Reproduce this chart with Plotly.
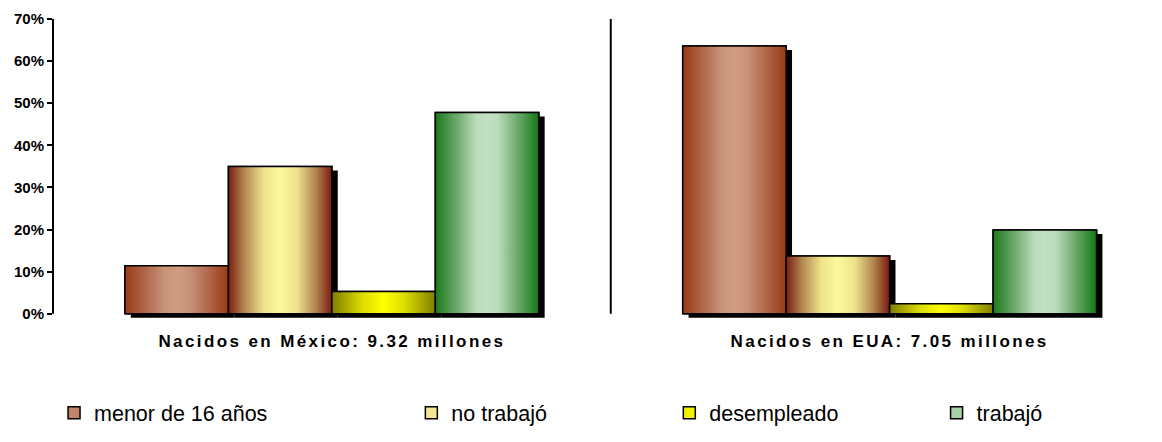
import plotly.graph_objects as go

# Categories and series (share of each group, %)
groups = ["Nacidos en México: 9.32 millones", "Nacidos en EUA: 7.05 millones"]
series = ["menor de 16 años", "no trabajó", "desempleado", "trabajó"]
menor_16 = [11.4, 63.6]
no_trabajo = [35.0, 13.7]
desempleado = [5.3, 2.4]
trabajo = [47.8, 19.9]
y_ticks = [0, 10, 20, 30, 40, 50, 60, 70]
y_tick_labels = ["0%", "10%", "20%", "30%", "40%", "50%", "60%", "70%"]

values = [menor_16, no_trabajo, desempleado, trabajo]

# Horizontal "cylinder" shading for each series, edge -> centre -> edge
gradients = [
    [[0, "#9a3a16"], [0.18, "#ae6446"], [0.38, "#c9937a"], [0.5, "#cf9c82"],
     [0.62, "#c9937a"], [0.82, "#ae6446"], [1, "#9a3a14"]],
    [[0, "#7c1e10"], [0.16, "#b48a52"], [0.34, "#eee38c"], [0.5, "#fcf99c"],
     [0.66, "#eee38c"], [0.84, "#b08850"], [1, "#7c1a10"]],
    [[0, "#7e7e00"], [0.3, "#dede00"], [0.5, "#ffff00"], [0.7, "#dede00"], [1, "#7e7e00"]],
    [[0, "#1a7a1a"], [0.2, "#6aa86a"], [0.4, "#bcdcbc"], [0.5, "#c2e0c2"],
     [0.6, "#bcdcbc"], [0.8, "#6aa86a"], [1, "#127812"]],
]
swatch = ["#c08468", "#f2e690", "#f0f000", "#a6d0a6"]

bar_w = 0.1855          # width of one bar in category units
shadow_dx = 0.0105      # drop shadow offset (x, category units)
shadow_dy = 0.95        # drop shadow offset (y, percent units)
xpos = list(range(len(groups)))

# legend anchors, in container (window) fractions
legend_x = [0.0465, 0.354, 0.576, 0.806]
legend_y = 0.066

fig = go.Figure()

# drop shadows
for k, vals in enumerate(values):
    off = (k - 2) * bar_w
    fig.add_trace(go.Bar(
        x=[p + shadow_dx for p in xpos], y=vals, base=-shadow_dy,
        width=bar_w, offset=off, marker=dict(color="black", line=dict(width=0)),
        showlegend=False, hoverinfo="skip"))

# main bars (solid fill, also provide legend entries)
for k, vals in enumerate(values):
    off = (k - 2) * bar_w
    fig.add_trace(go.Bar(
        x=xpos, y=vals, width=bar_w, offset=off, name=series[k],
        marker=dict(color=swatch[k], line=dict(color="black", width=1.5)),
        legend="legend" if k == 0 else f"legend{k + 1}"))

# shaded faces drawn over each bar
for k, vals in enumerate(values):
    off = (k - 2) * bar_w
    for p, v in zip(xpos, vals):
        x0, x1 = p + off, p + off + bar_w
        fig.add_trace(go.Scatter(
            x=[x0, x1, x1, x0, x0], y=[0, 0, v, v, 0], mode="lines",
            fill="toself", fillgradient=dict(type="horizontal", colorscale=gradients[k]),
            line=dict(color="black", width=1.5), showlegend=False, hoverinfo="skip"))

legend_font = dict(family="Liberation Sans, Arial, sans-serif", size=21.5, color="black")
legends = {}
for k in range(4):
    key = "legend" if k == 0 else f"legend{k + 1}"
    legends[key] = dict(x=legend_x[k], xref="container", xanchor="left",
                        y=legend_y, yref="container", yanchor="middle",
                        orientation="h", font=legend_font, bgcolor="rgba(0,0,0,0)",
                        borderwidth=0)

fig.update_layout(
    width=1162, height=442,
    margin=dict(l=53, r=12, t=19, b=124, autoexpand=False),
    paper_bgcolor="white", plot_bgcolor="white",
    barmode="overlay",
    **legends,
    xaxis=dict(
        range=[-0.5, 1.4668], tickmode="array", tickvals=xpos,
        ticktext=[f'<span style="letter-spacing:2.4px"><b>{g}</b></span>' for g in groups],
        tickfont=dict(family="Liberation Sans, Arial, sans-serif", size=17, color="black"),
        showgrid=False, zeroline=False, showline=False, ticks="", ticklabelstandoff=11),
    yaxis=dict(
        range=[-1.0, 70], tickmode="array", tickvals=y_ticks,
        ticktext=[f"<b>{t}</b>" for t in y_tick_labels],
        tickfont=dict(family="Liberation Sans, Arial, sans-serif", size=15, color="black"),
        showgrid=False, zeroline=False, showline=False,
        ticks="outside", ticklen=5, tickwidth=2, tickcolor="black"),
    shapes=[
        dict(type="line", xref="paper", x0=0, x1=0, yref="y", y0=0, y1=70,
             line=dict(color="black", width=2)),
        dict(type="line", xref="x", x0=0.5, x1=0.5, yref="y", y0=0, y1=70,
             line=dict(color="black", width=2)),
    ],
)

fig.write_html("out.html")
